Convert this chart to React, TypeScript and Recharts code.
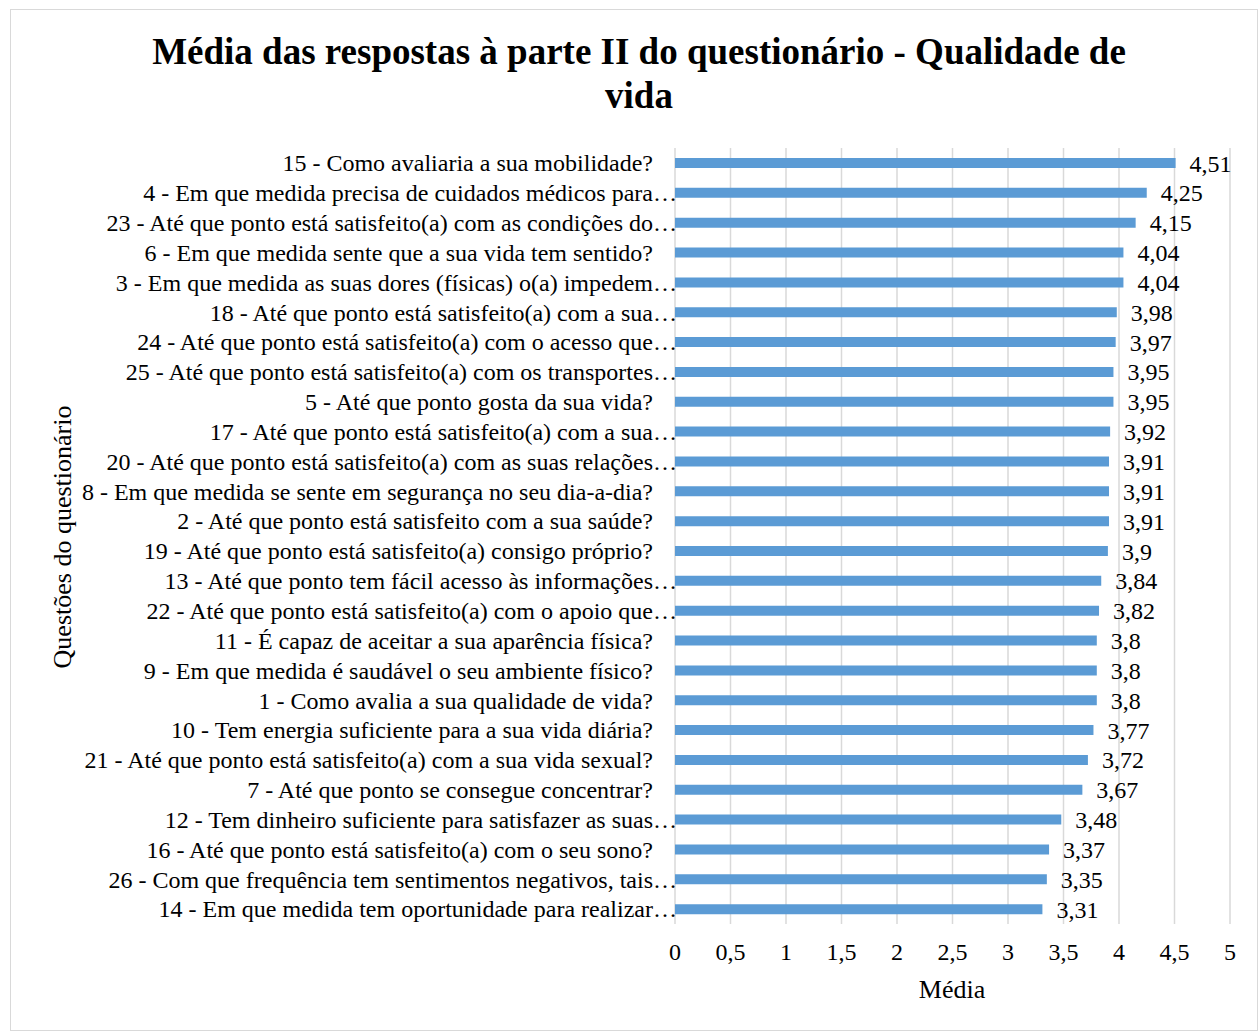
import React from "react";
import {
  BarChart,
  Bar,
  XAxis,
  YAxis,
  CartesianGrid,
  LabelList,
} from "recharts";

const questions = [
  "15 - Como avaliaria a sua mobilidade?",
  "4 - Em que medida precisa de cuidados médicos para…",
  "23 - Até que ponto está satisfeito(a) com as condições do…",
  "6 - Em que medida sente que a sua vida tem sentido?",
  "3 - Em que medida as suas dores (físicas) o(a) impedem…",
  "18 - Até que ponto está satisfeito(a) com a sua…",
  "24 - Até que ponto está satisfeito(a) com o acesso que…",
  "25 - Até que ponto está satisfeito(a) com os transportes…",
  "5 - Até que ponto gosta da sua vida?",
  "17 - Até que ponto está satisfeito(a) com a sua…",
  "20 - Até que ponto está satisfeito(a) com as suas relações…",
  "8 - Em que medida se sente em segurança no seu dia-a-dia?",
  "2 - Até que ponto está satisfeito com a sua saúde?",
  "19 - Até que ponto está satisfeito(a) consigo próprio?",
  "13 - Até que ponto tem fácil acesso às informações…",
  "22 - Até que ponto está satisfeito(a) com o apoio que…",
  "11 - É capaz de aceitar a sua aparência física?",
  "9 - Em que medida é saudável o seu ambiente físico?",
  "1 - Como avalia a sua qualidade de vida?",
  "10 - Tem energia suficiente para a sua vida diária?",
  "21 - Até que ponto está satisfeito(a) com a sua vida sexual?",
  "7 - Até que ponto se consegue concentrar?",
  "12 - Tem dinheiro suficiente para satisfazer as suas…",
  "16 - Até que ponto está satisfeito(a) com o seu sono?",
  "26 - Com que frequência tem sentimentos negativos, tais…",
  "14 - Em que medida tem oportunidade para realizar…",
];

const averages = [
  4.51, 4.25, 4.15, 4.04, 4.04, 3.98, 3.97, 3.95, 3.95, 3.92, 3.91, 3.91, 3.91,
  3.9, 3.84, 3.82, 3.8, 3.8, 3.8, 3.77, 3.72, 3.67, 3.48, 3.37, 3.35, 3.31,
];

const xTicks = [0, 0.5, 1, 1.5, 2, 2.5, 3, 3.5, 4, 4.5, 5];

const FONT = '"Liberation Serif", "Times New Roman", serif';

const fmt = (v: number) => String(v).replace(".", ",");

const data = questions.map((q, i) => ({ name: q, value: averages[i] }));

function QuestionTick(props: any) {
  const { x, y, payload } = props;
  const label: string = payload.value;
  const cut = label.endsWith("…");
  return (
    <text
      x={cut ? x + 2 : x - 22}
      y={y}
      dy="0.35em"
      textAnchor="end"
      fontFamily={FONT}
      fontSize={24}
      fill="#000"
    >
      {label}
    </text>
  );
}

export default function App() {
  return (
    <div
      style={{
        position: "absolute",
        left: 10,
        top: 9,
        width: 1246,
        height: 1020,
        border: "1px solid #d9d9d9",
        background: "#fff",
        fontFamily: FONT,
      }}
    >
      <div
        style={{
          position: "absolute",
          left: 0,
          width: 1256,
          top: 20,
          textAlign: "center",
          fontWeight: "bold",
          fontSize: 37,
          lineHeight: "44px",
          color: "#000",
        }}
      >
        Média das respostas à parte II do questionário - Qualidade de
        <br />
        vida
      </div>
      <div
        style={{
          position: "absolute",
          left: 52,
          top: 527,
          transform: "translate(-50%, -50%) rotate(-90deg)",
          whiteSpace: "nowrap",
          fontSize: 26,
          color: "#000",
        }}
      >
        Questões do questionário
      </div>
      <div
        style={{
          position: "absolute",
          left: 941,
          top: 980,
          transform: "translate(-50%, -50%)",
          fontSize: 26,
          color: "#000",
        }}
      >
        Média
      </div>
      <BarChart
        width={1246}
        height={1020}
        data={data}
        layout="vertical"
        margin={{ top: 138, right: 27, bottom: 26, left: 24 }}
        barSize={10}
      >
        <CartesianGrid horizontal={false} vertical={true} stroke="#d9d9d9" strokeWidth={1.5} />
        <XAxis
          type="number"
          domain={[0, 5]}
          ticks={xTicks}
          interval={0}
          axisLine={false}
          tickLine={false}
          tickSize={0}
          tickMargin={19}
          height={80}
          tickFormatter={fmt}
          tick={{ fontFamily: FONT, fontSize: 24, fill: "#000" }}
        />
        <YAxis
          type="category"
          dataKey="name"
          width={640}
          axisLine={false}
          tickLine={false}
          tickSize={0}
          tickMargin={0}
          interval={0}
          tick={<QuestionTick />}
        />
        <Bar dataKey="value" fill="#5b9bd5" isAnimationActive={false}>
          <LabelList
            dataKey="value"
            position="right"
            offset={14}
            formatter={(v: any) => fmt(Number(v))}
            style={{ fontFamily: FONT, fontSize: 24, fill: "#000" }}
          />
        </Bar>
      </BarChart>
    </div>
  );
}
